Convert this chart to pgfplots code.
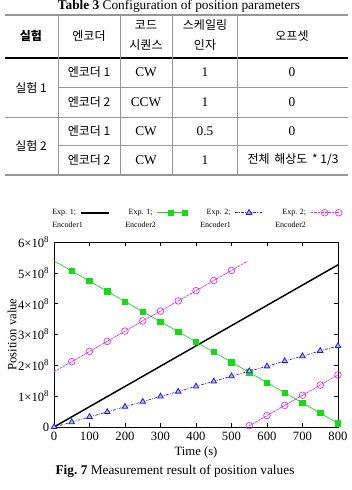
\documentclass[border=0pt]{standalone}
\usepackage{fontspec}
\setmainfont{Liberation Serif}
\newfontfamily\kr{Noto Sans CJK KR}
\usepackage{pgfplots}
\pgfplotsset{compat=1.18}
\frenchspacing
\definecolor{cgreen}{RGB}{20,220,20}
\definecolor{cblue}{RGB}{30,30,225}
\definecolor{cmag}{RGB}{230,40,230}
\definecolor{rule}{RGB}{150,150,150}
\begin{document}
\begin{tikzpicture}
\begin{scope}[x=0.75pt,y=-0.75pt,shift={(0,367.5pt)}]
  \path[use as bounding box, fill=white] (0,0) rectangle (348,490);
  % table caption
  \node[font=\fontsize{10}{12}\selectfont, inner sep=0] at (179,6) {\textbf{Table 3} Configuration of position parameters};
  % rules
  \draw[rule, line width=1.5pt] (5,15) -- (348,15);
  \draw[black, line width=1.4pt] (5,58) -- (348,58);
  \draw[rule, line width=0.6pt] (58,87) -- (348,87);
  \draw[rule, line width=0.6pt] (5,117) -- (348,117);
  \draw[rule, line width=0.6pt] (58,145) -- (348,145);
  \draw[rule, line width=0.8pt] (5,175) -- (348,175);
  \foreach \xx in {58,120,172,237} \draw[rule, line width=0.6pt] (\xx,15) -- (\xx,175);
  % header
  \begin{scope}[every node/.style={font=\kr\fontsize{9}{11}\selectfont, inner sep=0, align=center}]
    \node at (31,36) {\textbf{실험}};
    \node at (89,36) {엔코더};
    \node at (146,25) {코드};
    \node at (146,45) {시퀀스};
    \node at (205,25) {스케일링};
    \node at (205,45) {인자};
    \node at (292,36) {오프셋};
    \node at (31,88) {실험 1};
    \node at (31,146) {실험 2};
    \node at (89,72) {엔코더 1};
    \node at (89,102) {엔코더 2};
    \node at (89,131) {엔코더 1};
    \node at (89,160) {엔코더 2};
    \node at (293,160) {전체\, 해상도\, * 1/3};
  \end{scope}
  \begin{scope}[every node/.style={font=\fontsize{10}{12}\selectfont, inner sep=0}]
    \node at (146,72) {CW};
    \node at (146,102) {CCW};
    \node at (146,131) {CW};
    \node at (146,160) {CW};
    \node at (205,72) {1};
    \node at (205,102) {1};
    \node at (205,131) {0.5};
    \node at (205,160) {1};
    \node at (292,72) {0};
    \node at (292,102) {0};
    \node at (292,131) {0};
  \end{scope}
\end{scope}

\begin{axis}[
  at={(40.5pt,47.25pt)}, anchor=south west,
  scale only axis, width=213pt, height=138.75pt,
  xmin=0, xmax=800, ymin=0, ymax=6,
  xtick={0,100,...,800}, ytick={0,1,...,6},
  yticklabels={0,1×10\textsuperscript{8},2×10\textsuperscript{8},3×10\textsuperscript{8},4×10\textsuperscript{8},5×10\textsuperscript{8},6×10\textsuperscript{8}},
  tick align=inside, tick pos=both,
  major tick length=3pt,
  tick style={black, line width=0.4pt},
  axis line style={black, line width=0.6pt},
  ticklabel style={font=\fontsize{9.5}{11}\selectfont},
  /pgf/number format/assume math mode=true,
  xlabel={Time (s)}, ylabel={Position value},
  label style={font=\fontsize{9.5}{11}\selectfont},
  xlabel style={at={(axis description cs:0.5,-0.135)}, anchor=center},
  ylabel style={at={(axis description cs:-0.148,0.5)}, anchor=center},
  legend columns=4,
  legend plot pos=right,
  legend style={at={(axis description cs:-0.074,1.158)}, anchor=west, draw=none, fill=none,
    inner sep=0pt, font=\fontsize{6}{7}\selectfont,
    nodes={inner sep=0pt, text width=35.25pt, align=left}, /tikz/column sep=0pt},
  legend image code/.code={\draw[mark repeat=2,mark phase=2] plot coordinates {(0pt,0pt) (10.5pt,0pt) (21pt,0pt)};},
]
\addplot[black, line width=1.1pt] coordinates {(0,0) (800,5.26)};
\addlegendentry{\hspace*{14.25pt}Exp. 1;}
\addplot[cgreen, line width=0.5pt, mark=square*, mark size=2pt, mark options={solid, fill=cgreen},
  mark indices={2,3,4,5,6,7,8,9,10,11,12,13,14,15,16,17}] coordinates {
  (0,5.39) (50,5.06) (100,4.73) (150,4.40) (200,4.07) (250,3.74) (300,3.42) (350,3.09)
  (400,2.76) (450,2.43) (500,2.10) (550,1.77) (600,1.44) (650,1.11) (700,0.78) (750,0.45) (800,0.12)};
\addlegendentry{\hspace*{14.25pt}Exp. 1;}
\addplot[cblue, line width=0.5pt, dash pattern=on 2pt off 1pt on 0.6pt off 1pt, mark=triangle*, mark size=2.4pt,
  mark options={solid, fill=cblue!30, draw=cblue, line width=0.6pt}] coordinates {
  (0,0) (50,0.16) (100,0.33) (150,0.49) (200,0.66) (250,0.82) (300,0.99) (350,1.15)
  (400,1.32) (450,1.48) (500,1.65) (550,1.81) (600,1.97) (650,2.14) (700,2.30) (750,2.47) (800,2.63)};
\addlegendentry{\hspace*{14.25pt}Exp. 2;}
\addplot[cmag, line width=0.5pt, dash pattern=on 2pt off 0.6pt, mark=o, mark size=2.5pt, mark options={solid, line width=0.5pt},
  mark indices={2,3,4,5,6,7,8,9,10,11}] coordinates {
  (0,1.79) (50,2.12) (100,2.45) (150,2.78) (200,3.11) (250,3.44) (300,3.76) (350,4.09)
  (400,4.42) (450,4.75) (500,5.08) (544,5.37)};
\addlegendentry{\hspace*{14.25pt}Exp. 2;}
\addplot[cmag, line width=0.5pt, dash pattern=on 2pt off 0.6pt, mark=o, mark size=2.5pt, mark options={solid, line width=0.5pt}, forget plot] coordinates {
  (550,0.04) (600,0.37) (650,0.70) (700,1.03) (750,1.36) (800,1.69)};
\end{axis}

\begin{scope}[x=0.75pt,y=-0.75pt,shift={(0,367.5pt)}]
  \begin{scope}[every node/.style={font=\fontsize{6}{7}\selectfont, inner sep=0, anchor=west}]
    \node at (52,225) {Encoder1};
    \node at (125,225) {Encoder2};
    \node at (200,225) {Encoder1};
    \node at (275,225) {Encoder2};
  \end{scope}
  \node[font=\fontsize{10}{12}\selectfont, inner sep=0] at (175,471) {\textbf{Fig. 7} Measurement result of position values};
\end{scope}
\end{tikzpicture}
\end{document}
